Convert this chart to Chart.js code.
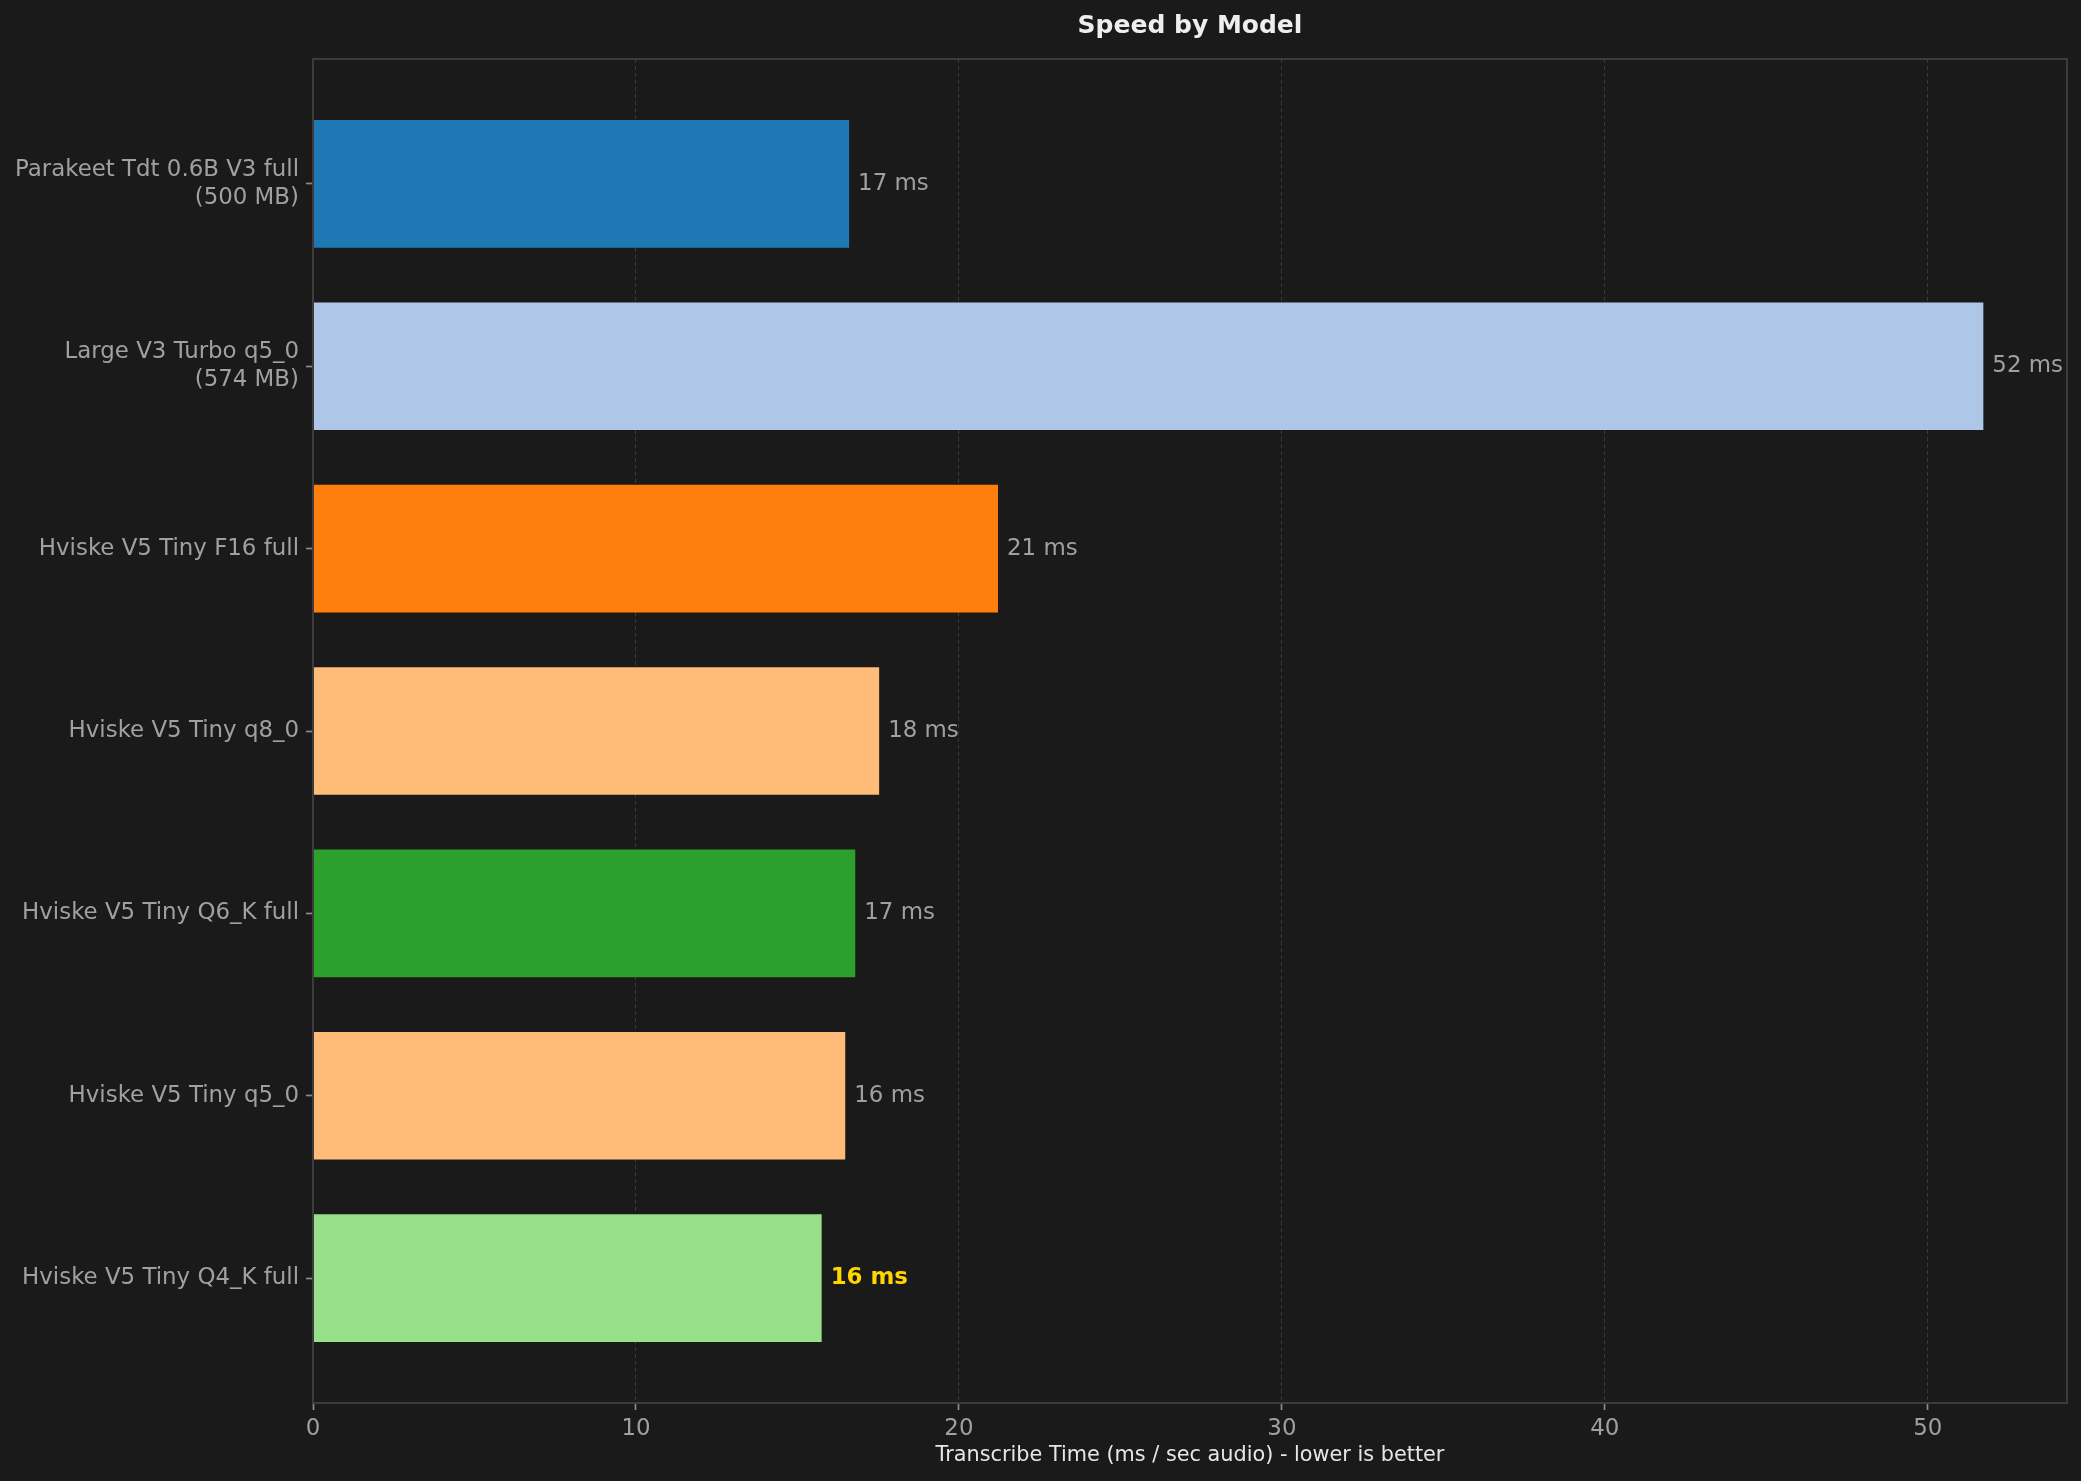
<!DOCTYPE html>
<html>
<head>
<meta charset="utf-8">
<script src="https://cdn.jsdelivr.net/npm/chart.js@4.4.1/dist/chart.umd.min.js"></script>
<style>
    html, body { margin: 0; padding: 0; background: #1a1a1a; }
    #wrap { width: 2081px; height: 1481px; position: relative; }
</style>
</head>
<body>
<div id="wrap"><canvas id="myChart"></canvas></div>
<script>
// data
const models = [
    "Parakeet Tdt 0.6B V3 full\n(500 MB)",
    "Large V3 Turbo q5_0\n(574 MB)",
    "Hviske V5 Tiny F16 full",
    "Hviske V5 Tiny q8_0",
    "Hviske V5 Tiny Q6_K full",
    "Hviske V5 Tiny q5_0",
    "Hviske V5 Tiny Q4_K full"
];
const speedMs = [16.60, 51.72, 21.21, 17.53, 16.79, 16.48, 15.75];
const barColors = ["#1f77b4", "#aec7e8", "#ff7f0e", "#ffbb78", "#2ca02c", "#ffbb78", "#98df8a"];
const xTicks = [0, 10, 20, 30, 40, 50];

const bestIndex = speedMs.indexOf(Math.min(...speedMs));
const FONT = "DejaVu Sans";

Chart.defaults.font.family = FONT;

// frame round the plot, like the matplotlib spines
const framePlugin = {
    id: "frame",
    afterDatasetsDraw(chart) {
        const a = chart.chartArea;
        const ctx = chart.ctx;
        ctx.save();
        ctx.strokeStyle = "#3c3c3c";
        ctx.lineWidth = 2;
        ctx.strokeRect(a.left, a.top, a.right - a.left, a.bottom - a.top);
        ctx.restore();
    }
};

// "NN ms" next to each bar
const valueLabels = {
    id: "valueLabels",
    afterDatasetsDraw(chart) {
        const ctx = chart.ctx;
        const meta = chart.getDatasetMeta(0);
        ctx.save();
        ctx.textBaseline = "middle";
        ctx.textAlign = "left";
        meta.data.forEach((bar, i) => {
            const best = i === bestIndex;
            ctx.font = (best ? "bold " : "") + "22.9px '" + FONT + "'";
            ctx.fillStyle = best ? "#ffd700" : "#a0a0a0";
            ctx.fillText(Math.round(speedMs[i]) + " ms", bar.x + 9, bar.y);
        });
        ctx.restore();
    }
};

new Chart(document.getElementById("myChart"), {
    type: "bar",
    data: {
        datasets: [{
            data: speedMs.map((v, i) => ({ x: v, y: i })),
            backgroundColor: barColors,
            borderWidth: 0,
            categoryPercentage: 1,
            barPercentage: 0.7
        }]
    },
    options: {
        indexAxis: "y",
        responsive: true,
        maintainAspectRatio: false,
        devicePixelRatio: 1,
        animation: false,
        layout: { padding: { top: 0, right: 14, bottom: 0, left: 0 } },
        plugins: {
            legend: { display: false },
            tooltip: { enabled: false },
            title: {
                display: true,
                text: "Speed by Model",
                color: "#eeeeee",
                fullSize: false,
                font: { family: FONT, size: 25, weight: "bold", lineHeight: 1.2 },
                padding: { top: 11, bottom: 18 }
            }
        },
        scales: {
            x: {
                type: "linear",
                min: 0,
                max: 54.31,
                afterFit(scale) { scale.height = 78; },
                afterBuildTicks(scale) { scale.ticks = xTicks.map(v => ({ value: v })); },
                ticks: {
                    color: "#a0a0a0",
                    font: { family: FONT, size: 22.9 },
                    padding: 5
                },
                grid: {
                    color: ctx => (ctx.tick && ctx.tick.value === 0) ? "rgba(0,0,0,0)" : "#3a3a3a",
                    lineWidth: 1,
                    drawTicks: true,
                    tickLength: 7,
                    tickColor: "#8a8a8a",
                    tickWidth: 1.7
                },
                border: { display: false, dash: [4, 3] },
                title: {
                    display: true,
                    text: "Transcribe Time (ms / sec audio) - lower is better",
                    color: "#e6e6e6",
                    font: { family: FONT, size: 20.8, lineHeight: 1.2 },
                    padding: { top: 0, bottom: 12.5 }
                }
            },
            y: {
                type: "linear",
                reverse: true,
                offset: false,
                min: -0.685,
                max: 6.685,
                afterFit(scale) { scale.width = 313; },
                afterBuildTicks(scale) { scale.ticks = models.map((m, i) => ({ value: i })); },
                ticks: {
                    color: "#a0a0a0",
                    font: { family: FONT, size: 22.9, lineHeight: 1.24 },
                    padding: 7,
                    autoSkip: false,
                    callback: v => models[v] ? models[v].split("\n") : ""
                },
                grid: {
                    offset: false,
                    drawOnChartArea: false,
                    drawTicks: true,
                    tickLength: 7,
                    tickColor: "#8a8a8a",
                    tickWidth: 1.7
                },
                border: { display: false }
            }
        }
    },
    plugins: [framePlugin, valueLabels]
});
</script>
</body>
</html>
